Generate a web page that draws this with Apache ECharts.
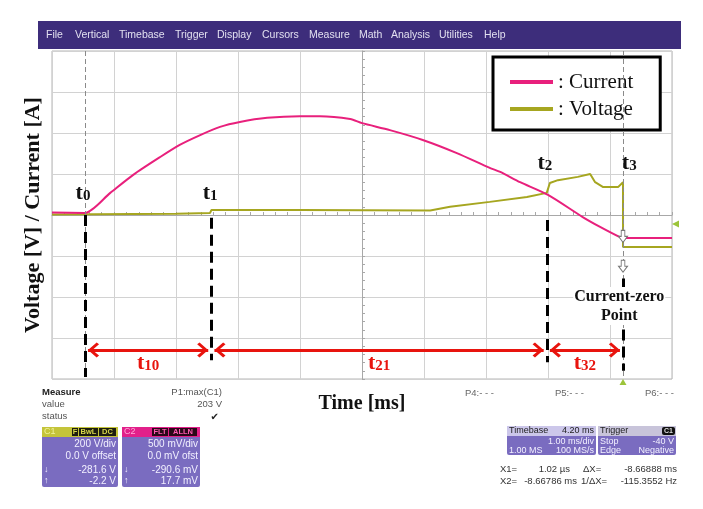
<!DOCTYPE html>
<html><head><meta charset="utf-8">
<script src="https://cdn.jsdelivr.net/npm/echarts@6/dist/echarts.min.js"></script>
<style>html,body{margin:0;padding:0;background:#fff}#c{width:703px;height:509px}</style>
</head><body><div id="c"></div><script>
// ---- data (time in divisions of 1 ms from screen centre, amplitude in divisions) ----
const currentT = [-5.0,-4.47,-4.06,-3.69,-3.26,-2.94,-2.61,-2.29,-1.97,-1.53,-1.0,-0.68,-0.19,0.0,0.45,0.98,1.53,2.06,2.23,2.55,3.0,3.56,3.84,4.16,4.21,5.0];
const currentV = [0.06,0.05,0.54,0.98,1.41,1.71,1.95,2.15,2.27,2.37,2.41,2.41,2.34,2.24,2.07,1.83,1.51,1.15,1.05,0.80,0.49,-0.05,-0.29,-0.54,-0.56,-0.56];
const voltageT = [-5.0,-3.0,-2.45,-2.43,-1.0,1.1,1.42,2.06,2.66,2.98,3.03,3.16,3.48,3.68,3.76,3.89,4.13,4.21,4.21,5.0];
const voltageV = [0.01,0.03,0.05,0.12,0.12,0.11,0.2,0.32,0.44,0.54,0.78,0.85,0.93,1.0,0.80,0.68,0.68,0.80,-0.78,-0.78];
const eventT = [-4.47,-2.43,2.98,4.21];
const eventSub = ['0','1','2','3'];
const intervalSub = ['10','21','32'];
const menuItems = ['File','Vertical','Timebase','Trigger','Display','Cursors','Measure','Math','Analysis','Utilities','Help'];

const SERIF = '"Liberation Serif","Times New Roman",serif';
const SANS = '"Liberation Sans",Arial,sans-serif';
const RED = '#e8140e';

// ---- graphic helpers (UI chrome of the scope screen) ----
const G = [];
function R(x,y,w,h,fill,r){G.push({type:'rect',shape:{x:x,y:y,width:w,height:h,r:r||0},style:{fill:fill},z:100,silent:true});}
function T(x,y,s,font,fill,align){G.push({type:'text',x:x,y:y,z:101,silent:true,style:{text:s,font:font,fill:fill,align:align||'left',verticalAlign:'middle',textAlign:align||'left',textVerticalAlign:'middle'}});}
function P(pts,fill){G.push({type:'polygon',shape:{points:pts},style:{fill:fill},z:101,silent:true});}

// menu bar
R(38,21,643,28,'#3d2d7b');
const menuX = [46,75,119,175,217,262,309,359,391,439,484];
menuItems.forEach((m,i)=>T(menuX[i],35,m,'10.5px '+SANS,'#e2e0f0'));

// measure table
const f9 = '9.5px '+SANS, f85 = '9px '+SANS;
T(42,392,'Measure','bold 9.5px '+SANS,'#222');
T(42,404,'value',f9,'#555');
T(42,416,'status',f9,'#555');
T(222,392,'P1:max(C1)',f9,'#555','right');
T(222,404,'203 V',f9,'#555','right');
T(219,417,'\u2714','10px "DejaVu Sans"','#222','right');
T(465,393,'P4:- - -',f9,'#666');
T(555,393,'P5:- - -',f9,'#666');
T(645,393,'P6:- - -',f9,'#666');

// C1 box
const PUR = '#7a6cc0', WT = '#f2f0ff', f10 = '10px '+SANS, fb = 'bold 7.5px '+SANS;
R(42,427,76,60,PUR,2); R(42,427,76,10,'#c4c43a');
T(44,432,'C1','9px '+SANS,'#f0f29a');
R(72,428,6,8,'#1d1d10'); T(75,432,'F',fb,'#d8d84a','center');
R(79,428,19,8,'#1d1d10'); T(88.5,432,'BwL',fb,'#d8d84a','center');
R(99,428,17,8,'#1d1d10'); T(107.5,432,'DC',fb,'#d8d84a','center');
T(116,444,'200 V/div',f10,WT,'right'); T(116,456,'0.0 V offset',f10,WT,'right');
T(44,470,'\u2193','9px '+SANS,WT); T(116,470,'-281.6 V',f10,WT,'right');
T(44,481,'\u2191','9px '+SANS,WT); T(116,481,'-2.2 V',f10,WT,'right');
// C2 box
R(122,427,78,60,PUR,2); R(122,427,78,10,'#e2208a');
T(124,432,'C2','9px '+SANS,'#ffa8d8');
R(152,428,16,8,'#2a0818'); T(160,432,'FLT',fb,'#ff5ab0','center');
R(169,428,28,8,'#2a0818'); T(183,432,'ALLN',fb,'#ff5ab0','center');
T(198,444,'500 mV/div',f10,WT,'right'); T(198,456,'0.0 mV ofst',f10,WT,'right');
T(124,470,'\u2193','9px '+SANS,WT); T(198,470,'-290.6 mV',f10,WT,'right');
T(124,481,'\u2191','9px '+SANS,WT); T(198,481,'17.7 mV',f10,WT,'right');
// Timebase / Trigger
R(507,426,89,29,PUR,2); R(507,426,89,10,'#ccc7ea');
T(509,431,'Timebase',f85,'#222'); T(594,431,'4.20 ms',f85,'#222','right');
T(594,442,'1.00 ms/div',f85,WT,'right');
T(509,450.5,'1.00 MS',f85,WT); T(594,450.5,'100 MS/s',f85,WT,'right');
R(598,426,78,29,PUR,2); R(598,426,78,10,'#c8c4da');
T(600,431,'Trigger',f85,'#222');
R(662,427,13,8,'#111',2); T(668.5,431,'C1','bold 7px '+SANS,'#ddd','center');
T(600,442,'Stop',f85,WT); T(674,442,'-40 V',f85,WT,'right');
T(600,450.5,'Edge',f85,WT); T(674,450.5,'Negative',f85,WT,'right');
T(500,469,'X1=',f9,'#333'); T(570,469,'1.02 \u00b5s',f9,'#333','right');
T(583,469,'\u0394X=',f9,'#333'); T(677,469,'-8.66888 ms',f9,'#333','right');
T(500,481,'X2=',f9,'#333'); T(577,481,'-8.66786 ms',f9,'#333','right');
T(581,481,'1/\u0394X=',f9,'#333'); T(677,481,'-115.3552 Hz',f9,'#333','right');
// trigger markers
P([[672,224],[679,220.5],[679,227.5]],'#9cc43a');
P([[623,379],[619.5,385],[626.5,385]],'#9cc43a');

// ---- annotations ----
const CHEV = 'path://M10,0 L20,9 L17.5,11.5 L10,4.5 L2.5,11.5 L0,9 Z';
const ARROW_DN = 'path://M3,0 L7,0 L7,6 L10,6 L5,12 L0,6 L3,6 Z';
const dashBlack = {color:'#000',width:3,type:[11,6]};
const dashGray = {color:'#8a8a8a',width:1,type:[5,3]};
const redLine = {color:RED,width:3,type:'solid'};
const blackSpan = [[0,-3.95],[-0.07,-3.54],[-0.12,-3.59],[-1.55,-3.8]];
const arrowV = -3.29;

const mlData = [];
[0,3].forEach(i=>mlData.push([{coord:[eventT[i],4],lineStyle:dashGray},{coord:[eventT[i],-4]}]));
eventT.forEach((t,i)=>mlData.push([{coord:[t,blackSpan[i][0]],lineStyle:dashBlack},{coord:[t,blackSpan[i][1]]}]));
for(let i=0;i<3;i++){
  const a=eventT[i], b=eventT[i+1];
  mlData.push([{coord:[a+0.05,arrowV],lineStyle:redLine},{coord:[b-0.05,arrowV]}]);
  mlData.push([{coord:[a+0.14,arrowV],lineStyle:redLine,symbol:CHEV,symbolSize:[15,11],
     label:{show:true,position:'insideMiddleBottom',distance:2,formatter:'{a|t}{b|'+intervalSub[i]+'}',
       rich:{a:{fontFamily:SERIF,fontWeight:'bold',fontSize:22,color:RED,verticalAlign:'top',lineHeight:22},
             b:{fontFamily:SERIF,fontWeight:'bold',fontSize:15,color:RED,verticalAlign:'bottom',lineHeight:15,padding:[10,0,0,0]}}}},
    {coord:[b-0.14,arrowV],symbol:CHEV,symbolSize:[15,11]}]);
}

const tLabelPos = [[-0.03,0.54],[-0.02,0.54],[-0.03,1.27],[0.10,1.27]];
const mpData = eventT.map((t,i)=>({coord:[t+tLabelPos[i][0],tLabelPos[i][1]],symbol:'circle',symbolSize:1,itemStyle:{color:'rgba(0,0,0,0)'},
  label:{show:true,position:'inside',formatter:'{a|t}{b|'+eventSub[i]+'}',
    rich:{a:{fontFamily:SERIF,fontWeight:'bold',fontSize:22,color:'#111',verticalAlign:'top',lineHeight:22},
          b:{fontFamily:SERIF,fontWeight:'bold',fontSize:15,color:'#111',verticalAlign:'bottom',lineHeight:15,padding:[10,0,0,0]}}}}));
mpData.push({coord:[eventT[3]-0.06,-2.22],symbol:'circle',symbolSize:1,itemStyle:{color:'rgba(0,0,0,0)'},
  label:{show:true,position:'inside',formatter:'Current-zero\nPoint',fontFamily:SERIF,fontWeight:'bold',fontSize:16,lineHeight:19,color:'#111',
    backgroundColor:'#fff',padding:[0,1,0,1],align:'center'}});
mpData.push({coord:[eventT[3],-0.52],symbol:ARROW_DN,symbolSize:[9,12],itemStyle:{color:'#fff',borderColor:'#777',borderWidth:1},label:{show:false}});
mpData.push({coord:[eventT[3],-1.25],symbol:ARROW_DN,symbolSize:[9,12],itemStyle:{color:'#fff',borderColor:'#777',borderWidth:1},label:{show:false}});

const chart = echarts.init(document.getElementById('c'),null,{renderer:'canvas'});
chart.setOption({
  animation:false,
  backgroundColor:'#fff',
  grid:{left:52,top:51,right:31,bottom:130,show:true,borderColor:'#b4b4b4',borderWidth:1,backgroundColor:'#fff',containLabel:false,outerBoundsMode:'none'},
  legend:{data:['Current','Voltage'],orient:'vertical',left:493,top:57,icon:'rect',itemWidth:43,itemHeight:4,itemGap:5,
    padding:[14,27,10,17],borderColor:'#000',borderWidth:3,backgroundColor:'#fff',
    textStyle:{fontFamily:SERIF,fontSize:21,lineHeight:22,color:'#111'},formatter:': {name}',selectedMode:false},
  xAxis:[
    {type:'value',min:-5,max:5,interval:1,position:'bottom',axisLine:{show:false,onZero:false},axisTick:{show:false},axisLabel:{show:false},
     splitLine:{show:true,lineStyle:{color:'#d2d2d2',width:1}},
     name:'Time [ms]',nameLocation:'middle',nameGap:15,nameTextStyle:{fontFamily:SERIF,fontWeight:'bold',fontSize:20,color:'#111'}},
    {type:'value',min:-5,max:5,interval:1,position:'top',axisLine:{show:true,onZero:true,lineStyle:{color:'#a8a8a8'}},
     axisTick:{show:true,length:3,lineStyle:{color:'#a8a8a8'}},minorTick:{show:true,splitNumber:5,length:3,lineStyle:{color:'#a8a8a8'}},
     axisLabel:{show:false},splitLine:{show:false}}
  ],
  yAxis:[
    {type:'value',min:-4,max:4,interval:1,position:'left',axisLine:{show:false,onZero:false},axisTick:{show:false},axisLabel:{show:false},
     splitLine:{show:true,lineStyle:{color:'#d2d2d2',width:1}},
     name:'Voltage [V] / Current [A]',nameLocation:'middle',nameGap:8,nameTextStyle:{fontFamily:SERIF,fontWeight:'bold',fontSize:22,color:'#111'}},
    {type:'value',min:-4,max:4,interval:1,position:'right',axisLine:{show:true,onZero:true,lineStyle:{color:'#a8a8a8'}},
     axisTick:{show:true,length:3,lineStyle:{color:'#a8a8a8'}},minorTick:{show:true,splitNumber:5,length:3,lineStyle:{color:'#a8a8a8'}},
     axisLabel:{show:false},splitLine:{show:false}}
  ],
  series:[
    {type:'line',name:'Voltage',xAxisIndex:0,yAxisIndex:0,data:voltageT.map((t,i)=>[t,voltageV[i]]),symbol:'none',
     lineStyle:{color:'#a6a620',width:2},itemStyle:{color:'#a6a620'},z:3},
    {type:'line',name:'Current',xAxisIndex:0,yAxisIndex:0,data:currentT.map((t,i)=>[t,currentV[i]]),symbol:'none',
     smooth:0.25,
     lineStyle:{color:'#e8207c',width:2},itemStyle:{color:'#e8207c'},z:4},
    {type:'line',name:'annot',xAxisIndex:0,yAxisIndex:0,data:[],z:6,clip:false,
     markLine:{silent:true,symbol:['none','none'],animation:false,label:{show:false},emphasis:{disabled:true},data:mlData},
     markPoint:{silent:true,animation:false,data:mpData}}
  ],
  graphic:G
});
</script></body></html>
